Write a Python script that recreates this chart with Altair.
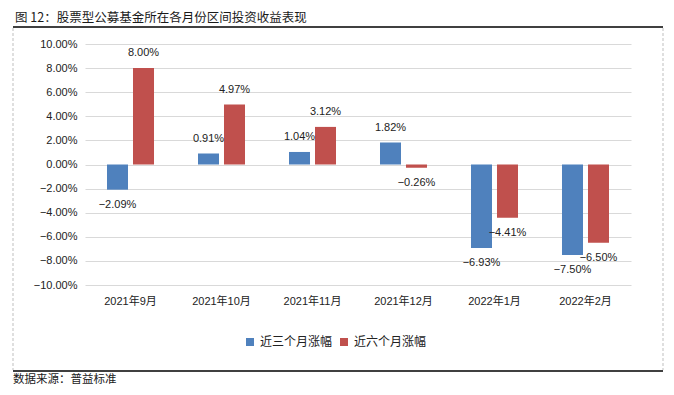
import altair as alt
import pandas as pd

months = ["2021年9月", "2021年10月", "2021年11月", "2021年12月", "2022年1月", "2022年2月"]
series = ["近三个月涨幅", "近六个月涨幅"]
three_month = [-2.09, 0.91, 1.04, 1.82, -6.93, -7.50]
six_month = [8.00, 4.97, 3.12, -0.26, -4.41, -6.50]
colors = ["#4F81BD", "#C0504D"]
y_ticks = [-10, -8, -6, -4, -2, 0, 2, 4, 6, 8, 10]
title_text = "图 12：股票型公募基金所在各月份区间投资收益表现"
source_text = "数据来源：普益标准"

rows = []
for m, a, b in zip(months, three_month, six_month):
    rows.append({"month": m, "series": series[0], "value": a / 100})
    rows.append({"month": m, "series": series[1], "value": b / 100})
df = pd.DataFrame(rows)

LAT = "Liberation Sans, Arial, Noto Sans CJK SC, sans-serif"
CJK = "Noto Sans CJK SC, sans-serif"
TXT = "#222222"

x_enc = alt.X(
    "month:N",
    sort=months,
    scale=alt.Scale(paddingInner=0.4835, paddingOuter=0.2418),
    axis=alt.Axis(title=None, labelAngle=0, domain=False, ticks=False, tickSize=0,
                  labelPadding=10, labelFont=LAT, labelFontSize=11, labelColor=TXT, grid=False),
)
xoff_enc = alt.XOffset("series:N", sort=series, scale=alt.Scale(paddingInner=0.192, paddingOuter=0))
y_enc = alt.Y(
    "value:Q",
    scale=alt.Scale(domain=[-0.1, 0.1], nice=False),
    axis=alt.Axis(values=[t / 100 for t in y_ticks], format=".2%", title=None, domain=False,
                  ticks=False, tickSize=0, labelPadding=8, labelFont=LAT, labelFontSize=11,
                  labelColor=TXT, gridColor="#D9D9D9", gridWidth=1),
)

base = alt.Chart(df)

bars = base.mark_bar().encode(
    x=x_enc,
    xOffset=xoff_enc,
    y=y_enc,
    color=alt.Color(
        "series:N",
        sort=series,
        scale=alt.Scale(domain=series, range=colors),
        legend=alt.Legend(orient="none", legendX=159, legendY=292, direction="horizontal",
                          title=None, symbolType="square", symbolSize=64, symbolStrokeWidth=0,
                          labelFontSize=12, labelFont=CJK, labelColor=TXT, columnPadding=5,
                          labelOffset=4, padding=0),
    ),
)

pos_labels = base.transform_filter("datum.value >= 0").mark_text(
    dy=-15, fontSize=11, font=LAT, color=TXT, baseline="middle"
).encode(x=x_enc, xOffset=xoff_enc, y=y_enc, text=alt.Text("value:Q", format=".2%"))

neg_labels = base.transform_filter("datum.value < 0").mark_text(
    dy=15, fontSize=11, font=LAT, color=TXT, baseline="middle"
).encode(x=x_enc, xOffset=xoff_enc, y=y_enc, text=alt.Text("value:Q", format=".2%"))

deco = alt.Chart(pd.DataFrame({"k": [0]}))

top_line = deco.mark_rule(color="black", strokeWidth=1.5).encode(
    x=alt.value(-72), x2=alt.value(578), y=alt.value(-17))
bottom_line = deco.mark_rule(color="black", strokeWidth=1.5).encode(
    x=alt.value(-72), x2=alt.value(578), y=alt.value(327))
left_dash = deco.mark_rule(color="#BFBFBF", strokeWidth=1, strokeDash=[3, 2]).encode(
    x=alt.value(-72), y=alt.value(-16), y2=alt.value(326))
right_dash = deco.mark_rule(color="#BFBFBF", strokeWidth=1, strokeDash=[3, 2]).encode(
    x=alt.value(578), y=alt.value(-16), y2=alt.value(326))

title = deco.mark_text(align="left", baseline="middle", fontSize=12.5, font=CJK, color="#1a1a1a").encode(
    x=alt.value(-70), y=alt.value(-26), text=alt.value(title_text))
source = deco.mark_text(align="left", baseline="middle", fontSize=11.5, font=CJK, color="#1a1a1a").encode(
    x=alt.value(-72), y=alt.value(336), text=alt.value(source_text))

chart = alt.layer(
    top_line, bottom_line, left_dash, right_dash, title, source, bars, pos_labels, neg_labels
).properties(
    width=546,
    height=241,
    autosize=alt.AutoSizeParams(type="none"),
    padding={"left": 77, "top": 36, "right": 35, "bottom": 102},
    background="white",
).configure_view(stroke=None)

chart.save("out.html", embed_options={"renderer": "svg", "actions": False})
